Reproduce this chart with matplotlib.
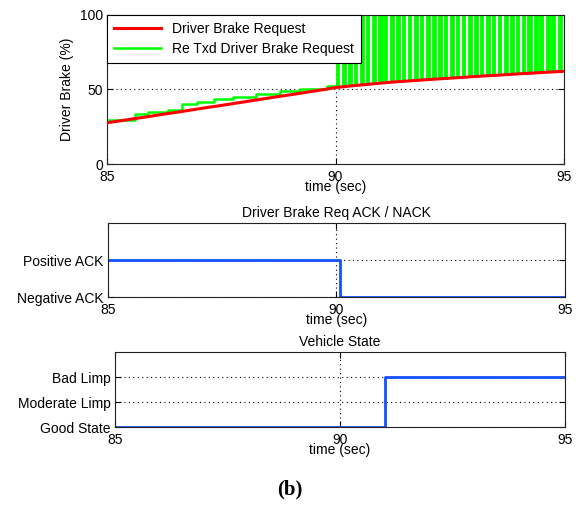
import numpy as np
import matplotlib as mpl
import matplotlib.pyplot as plt

mpl.use("agg")
plt.rcParams["font.family"] = ["Liberation Sans", "DejaVu Sans"]
plt.rcParams["font.size"] = 10

# Driver brake request (%) - sampled from the trace
red_t = [85.0, 85.25, 85.5, 85.75, 86.0, 86.25, 86.5, 86.75, 87.0, 87.25,
         87.5, 87.75, 88.0, 88.25, 88.5, 88.75, 89.0, 89.25, 89.5, 89.75,
         90.0, 90.25, 90.5, 90.75, 91.0, 91.25, 91.5, 91.75, 92.0, 92.25,
         92.5, 92.75, 93.0, 93.25, 93.5, 93.75, 94.0, 94.25, 94.5, 94.75, 95.0]
red_v = [27.7, 28.8, 30.0, 31.1, 32.3, 33.5, 34.6, 35.8, 37.0, 38.2,
         39.3, 40.5, 41.7, 42.9, 44.1, 45.3, 46.4, 47.6, 48.8, 50.0,
         51.3, 52.1, 52.9, 53.6, 54.3, 55.0, 55.5, 56.1, 56.6, 57.1,
         57.6, 58.1, 58.6, 59.1, 59.5, 60.0, 60.5, 60.9, 61.4, 61.8, 62.2]

# re-transmitted request before the fault (steps)
green_t = [85.0, 85.61, 85.90, 86.34, 86.63, 86.96, 87.33, 87.76, 88.27,
           88.79, 89.22, 89.81, 90.0]
green_v = [29.5, 33.3, 34.7, 36.2, 40.3, 41.8, 43.4, 45.2, 47.0,
           49.2, 50.5, 52.5, 52.5]

# re-transmitted request after 90 s: spikes to 100 %
spike_start = [90.02, 90.15, 90.28, 90.41, 90.53, 90.67, 90.80, 90.94, 91.06,
               91.20, 91.33, 91.46, 91.58, 91.72, 91.85, 91.98, 92.11, 92.24,
               92.37, 92.51, 92.63, 92.77, 92.89, 93.03, 93.16, 93.29, 93.42,
               93.55, 93.68, 93.82, 93.94, 94.08, 94.20, 94.34, 94.46, 94.60,
               94.72, 94.86]
spike_width = [0.06, 0.07, 0.08, 0.07, 0.09, 0.07, 0.08, 0.09, 0.07,
               0.08, 0.09, 0.07, 0.08, 0.09, 0.07, 0.08, 0.09, 0.08,
               0.07, 0.09, 0.08, 0.07, 0.09, 0.08, 0.07, 0.09, 0.08,
               0.07, 0.09, 0.08, 0.08, 0.07, 0.09, 0.08, 0.07, 0.09,
               0.08, 0.09]

# ACK / NACK
ack_t = [85.0, 90.08, 90.08, 95.0]
ack_v = [1, 1, 0, 0]
ack_labels = ["Negative ACK", "Positive ACK"]

# vehicle state
state_t = [85.0, 91.0, 91.0, 95.0]
state_v = [0, 0, 2, 2]
state_labels = ["Good State", "Moderate Limp", "Bad Limp"]

blue = "#1450ff"
green = "#00ff00"
red = "#ff0000"

fig = plt.figure(figsize=(5.76, 5.24), dpi=100)
ax1 = fig.add_axes([0.1858, 0.687, 0.7934, 0.2844])
ax2 = fig.add_axes([0.1875, 0.4332, 0.7934, 0.1412])
ax3 = fig.add_axes([0.1997, 0.1851, 0.7813, 0.1431])

for ax in (ax1, ax2, ax3):
    ax.set_xlim(85, 95)
    ax.set_xticks([85, 90, 95])
    ax.tick_params(direction="in", length=4, top=True, right=True, pad=3)
    ax.tick_params(axis="x", pad=4.5)
    ax.grid(True, linestyle=(0, (1, 3)), color="black", linewidth=0.8)
    ax.set_axisbelow(True)
    for s in ax.spines.values():
        s.set_color("#222222")
    ax.set_xlabel("time (sec)", labelpad=-3)

# top panel
bases = np.interp(spike_start, red_t, red_v)
ax1.bar(spike_start, 100 - bases, bottom=bases, width=spike_width,
        align="edge", color=green, edgecolor=green, linewidth=0.6, zorder=2)
ax1.plot(green_t, green_v, color=green, lw=1.8, drawstyle="steps-post",
         zorder=2, label="Re Txd Driver Brake Request")
ax1.plot(red_t, red_v, color=red, lw=2.2, zorder=3,
         label="Driver Brake Request")
ax1.set_ylim(0, 100)
ax1.set_yticks([0, 50, 100])
ax1.set_ylabel("Driver Brake (%)")
h, l = ax1.get_legend_handles_labels()
leg = ax1.legend(h[::-1], l[::-1], loc="upper left", borderaxespad=0,
                 fancybox=False, edgecolor="black", framealpha=1,
                 handlelength=3.4, borderpad=0.5, labelspacing=0.45)
leg.get_frame().set_linewidth(0.8)
leg.set_zorder(5)

# middle panel
ax2.plot(ack_t, ack_v, color=blue, lw=2)
ax2.set_ylim(0, 2)
ax2.set_yticks([0, 1])
ax2.set_yticklabels(ack_labels)
ax2.set_title("Driver Brake Req ACK / NACK", pad=4, fontsize=10)

# bottom panel
ax3.plot(state_t, state_v, color=blue, lw=2)
ax3.set_ylim(0, 3)
ax3.set_yticks([0, 1, 2])
ax3.set_yticklabels(state_labels)
ax3.set_title("Vehicle State", pad=4, fontsize=10)

fig.text(0.503, 0.065, "(b)", ha="center", va="center",
         family="Liberation Serif", fontweight="bold", fontsize=15)

fig.savefig("out.png", dpi=100)
